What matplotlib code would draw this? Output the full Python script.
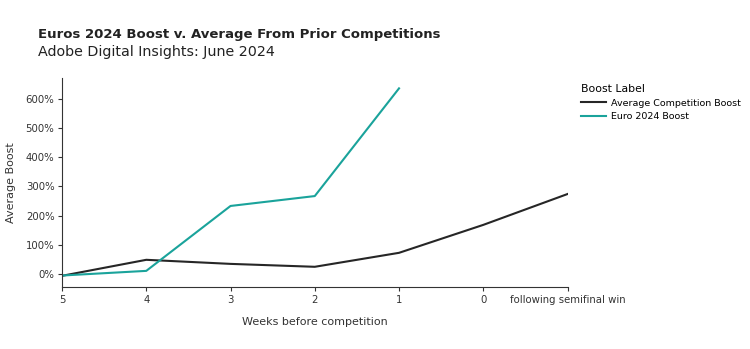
import matplotlib.pyplot as plt

# x categories (weeks before competition)
weeks = ["5", "4", "3", "2", "1", "0", "following semifinal win"]

# average boost, in percent
avg_boost = [-7, 48, 34, 24, 72, 168, 274]
euro_boost = [-6, 10, 233, 267, 637]

plt.rcParams['font.family'] = ['DejaVu Sans']

fig = plt.figure(figsize=(7.5, 3.49), dpi=100)
ax = fig.add_axes([0.0827, 0.178, 0.674, 0.598])

xs = list(range(len(weeks)))
ax.plot(xs, avg_boost, color='#262626', lw=1.5, label='Average Competition Boost')
ax.plot(xs[:len(euro_boost)], euro_boost, color='#1aa39b', lw=1.5, label='Euro 2024 Boost')

ax.set_xlim(0, len(weeks) - 1)
ax.set_ylim(-45, 672)
ax.set_xticks(xs)
ax.set_xticklabels(weeks)
ax.set_yticks([0, 100, 200, 300, 400, 500, 600])
ax.set_yticklabels(['%d%%' % v for v in [0, 100, 200, 300, 400, 500, 600]])
ax.tick_params(labelsize=7.3, colors='#333333', length=3, width=0.8, pad=2.5)
for s in ['top', 'right']:
	ax.spines[s].set_visible(False)
for s in ['left', 'bottom']:
	ax.spines[s].set_color('#333333')
	ax.spines[s].set_linewidth(0.8)

ax.set_xlabel('Weeks before competition', fontsize=8, color='#333333', labelpad=9)
ax.set_ylabel('Average Boost', fontsize=8, color='#333333', labelpad=7)

fig.text(0.051, 0.89, 'Euros 2024 Boost v. Average From Prior Competitions',
	fontsize=9.5, fontweight='bold', color='#222222')
fig.text(0.051, 0.84, 'Adobe Digital Insights: June 2024', fontsize=10.3, color='#222222')

leg = ax.legend(title='Boost Label', loc='upper left', bbox_to_anchor=(1.02, 0.99),
	frameon=False, fontsize=6.8, title_fontsize=7.8, handlelength=2.6,
	handletextpad=0.5, borderaxespad=0, labelspacing=0.5)
leg._legend_box.align = 'left'

fig.savefig('out.png', dpi=100)
